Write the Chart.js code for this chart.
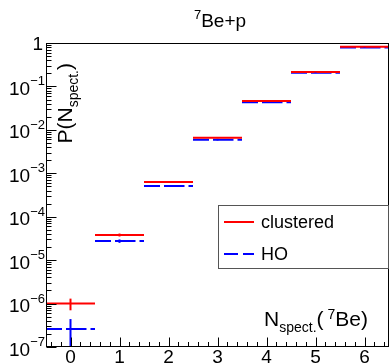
<!DOCTYPE html>
<html><head><meta charset="utf-8">
<script src="https://cdn.jsdelivr.net/npm/chart.js@4/dist/chart.umd.min.js"></script>
<style>html,body{margin:0;padding:0;background:#fff;overflow:hidden}#wrap{width:389px;height:364px;position:relative}</style>
</head><body><div id="wrap"><canvas id="c" width="389" height="364"></canvas></div>
<script>
// ---- data ----
const categories = [0, 1, 2, 3, 4, 5, 6];
const clustered = [1.0e-6, 3.8e-5, 6.3e-4, 6.6e-3, 4.6e-2, 2.15e-1, 8.2e-1];
const clusteredErr = [3.0e-7, 3.0e-6, 3.0e-5, 2.0e-4, 1.0e-3, 4.0e-3, 1.0e-2];
const ho = [2.6e-7, 2.75e-5, 5.1e-4, 5.9e-3, 4.3e-2, 2.07e-1, 7.9e-1];
const hoErr = [1.8e-7, 2.5e-6, 2.5e-5, 2.0e-4, 1.0e-3, 4.0e-3, 1.0e-2];
const xTickLabels = ['0', '1', '2', '3', '4', '5', '6'];
const yTickExponents = [-7, -6, -5, -4, -3, -2, -1, 0];
const seriesLabels = ['clustered', 'HO'];

const FONT = '"Liberation Sans", Arial, Helvetica, sans-serif';

function steps(vals) {
  const d = [];
  vals.forEach((v, i) => {
    const c = categories[i];
    d.push({x: c - 0.5, y: v}, {x: c, y: v}, {x: c, y: null},
           {x: c, y: v}, {x: c + 0.5, y: v}, {x: c + 0.5, y: null});
  });
  return d;
}

function drawPieces(ctx, pieces, x0) {
  let x = x0;
  pieces.forEach(p => {
    ctx.font = p.size + 'px ' + FONT;
    ctx.fillText(p.t, x, p.dy);
    x += ctx.measureText(p.t).width + (p.gap || 0);
  });
  return x;
}
function piecesWidth(ctx, pieces) {
  let w = 0;
  pieces.forEach(p => { ctx.font = p.size + 'px ' + FONT; w += ctx.measureText(p.t).width + (p.gap || 0); });
  return w;
}

const decor = {
  id: 'decor',
  afterDatasetsDraw(chart) {
    const {ctx, chartArea: a, scales: {x, y}} = chart;
    ctx.save();
    // error bars
    ctx.save();
    ctx.beginPath(); ctx.rect(a.left, a.top, a.right - a.left, a.bottom - a.top); ctx.clip();
    [[ho, hoErr, '#0000ff'], [clustered, clusteredErr, '#ff0000']].forEach(([v, e, c]) => {
      ctx.strokeStyle = c; ctx.lineWidth = 2; ctx.setLineDash([]);
      v.forEach((val, i) => {
        const px = x.getPixelForValue(categories[i]);
        const lo = Math.max(val - e[i], 1e-12);
        ctx.beginPath();
        ctx.moveTo(px, y.getPixelForValue(val + e[i]));
        ctx.lineTo(px, y.getPixelForValue(lo));
        ctx.stroke();
      });
    });
    ctx.restore();

    // frame
    ctx.strokeStyle = '#000'; ctx.lineWidth = 1; ctx.setLineDash([]);
    ctx.strokeRect(a.left + 0.5, a.top + 0.5, a.right - a.left - 1, a.bottom - a.top - 1);

    // y ticks
    ctx.beginPath();
    const yL = a.left + 0.5;
    for (let k = 0; k < yTickExponents.length; k++) {
      const e = yTickExponents[k];
      const py = Math.round(y.getPixelForValue(Math.pow(10, e))) + 0.5;
      ctx.moveTo(yL, py); ctx.lineTo(yL + 10, py);
      if (k < yTickExponents.length - 1) {
        for (let m = 2; m <= 9; m++) {
          const pm = Math.round(y.getPixelForValue(m * Math.pow(10, e))) + 0.5;
          ctx.moveTo(yL, pm); ctx.lineTo(yL + 5, pm);
        }
      }
    }
    // x ticks
    const xB = a.bottom - 0.5;
    for (let k = -2; k <= 32; k++) {
      const v = k / 5;
      const px = Math.round(x.getPixelForValue(v)) + 0.5;
      const len = (k % 5 === 0) ? 9 : 4.5;
      ctx.moveTo(px, xB); ctx.lineTo(px, xB - len);
    }
    ctx.stroke();

    // tick labels
    ctx.fillStyle = '#000';
    ctx.textBaseline = 'alphabetic';
    ctx.textAlign = 'center';
    ctx.font = '19px ' + FONT;
    xTickLabels.forEach((t, i) => {
      ctx.fillText(t, x.getPixelForValue(categories[i]), 363);
    });
    ctx.textAlign = 'left';
    yTickExponents.forEach(e => {
      const py = y.getPixelForValue(Math.pow(10, e));
      if (e === 0) {
        ctx.font = '19px ' + FONT;
        const w = ctx.measureText('1').width;
        ctx.fillText('1', 43 - w, py + 7);
      } else {
        ctx.font = '13px ' + FONT;
        const sup = '\u2212' + Math.abs(e);
        const ws = ctx.measureText(sup).width;
        ctx.fillText(sup, 45 - ws, py - 1);
        ctx.font = '19px ' + FONT;
        const wb = ctx.measureText('10').width;
        ctx.fillText('10', 45 - ws - wb, py + 8.5);
      }
    });

    // title
    const title = [{t: '7', size: 13, dy: 19}, {t: 'Be+p', size: 19, dy: 27}];
    drawPieces(ctx, title, 220 - piecesWidth(ctx, title) / 2);

    // x axis title
    const xt = [{t: 'N', size: 21, dy: 326}, {t: 'spect.', size: 14, dy: 332}, {t: '(', size: 21, dy: 326, gap: 4},
                {t: '7', size: 14, dy: 319}, {t: 'Be)', size: 21, dy: 326}];
    drawPieces(ctx, xt, 368 - piecesWidth(ctx, xt));

    // y axis title
    ctx.save();
    ctx.translate(72, 63);
    ctx.rotate(-Math.PI / 2);
    const yt = [{t: 'P(N', size: 21, dy: 0}, {t: 'spect.', size: 14, dy: 6}, {t: ')', size: 21, dy: 0}];
    drawPieces(ctx, yt, -piecesWidth(ctx, yt));
    ctx.restore();

    // legend
    const lx = 218.5, ly = 205.5, lw = 170, lh = 63;
    ctx.fillStyle = '#fff';
    ctx.fillRect(lx, ly, lw, lh);
    ctx.strokeStyle = '#555'; ctx.lineWidth = 1;
    ctx.strokeRect(lx, ly, lw, lh);
    const ds = chart.data.datasets;
    const rows = [222, 254];
    ds.forEach((d, i) => {
      ctx.strokeStyle = d.borderColor; ctx.lineWidth = 2;
      ctx.setLineDash(i === 1 ? [14, 5] : []);
      ctx.beginPath(); ctx.moveTo(224, rows[i]); ctx.lineTo(254, rows[i]); ctx.stroke();
      ctx.setLineDash([]);
      ctx.fillStyle = '#000';
      ctx.font = '18px ' + FONT;
      ctx.textBaseline = 'middle';
      ctx.fillText(d.label, 261, rows[i] + 1);
    });
    ctx.restore();
  }
};

new Chart(document.getElementById('c'), {
  type: 'line',
  data: {
    datasets: [
      {label: seriesLabels[0], data: steps(clustered), borderColor: '#ff0000', borderWidth: 2,
       pointRadius: 0, spanGaps: false, tension: 0, fill: false},
      {label: seriesLabels[1], data: steps(ho), borderColor: '#0000ff', borderWidth: 2, borderDash: [16, 4],
       pointRadius: 0, spanGaps: false, tension: 0, fill: false}
    ]
  },
  options: {
    responsive: false,
    animation: false,
    layout: {padding: {left: 46, top: 43, right: 0, bottom: 17}},
    scales: {
      x: {type: 'linear', min: -0.5, max: 6.5, display: false},
      y: {type: 'logarithmic', min: 1e-7, max: 1, display: false}
    },
    plugins: {legend: {display: false}, tooltip: {enabled: false}, title: {display: false}}
  },
  plugins: [decor]
});
</script>
</body></html>
